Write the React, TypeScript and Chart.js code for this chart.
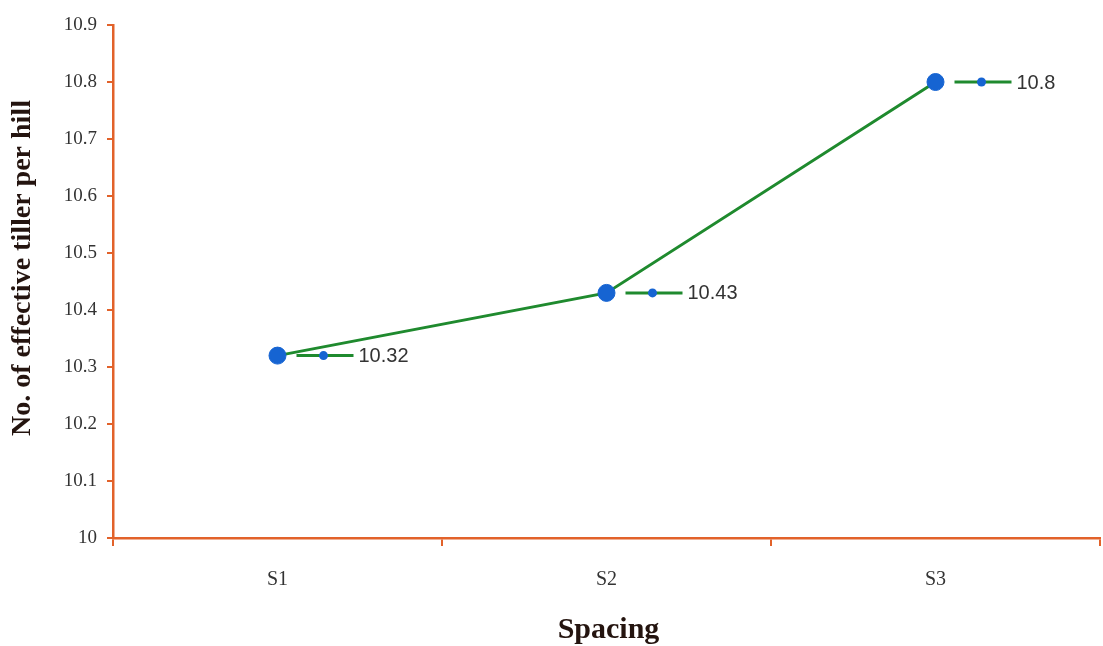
import React, { useEffect, useRef } from "react";
import { Chart, registerables } from "chart.js";

Chart.register(...registerables);

const categories = ["S1", "S2", "S3"];
const tillerValues = [10.32, 10.43, 10.8];
const yMin = 10;
const yMax = 10.9;
const yStep = 0.1;
const xTitle = "Spacing";
const yTitle = "No. of effective tiller per hill";

const axisColor = "#e2622a";
const lineColor = "#1f8a2e";
const pointColor = "#1664d2";
const textColor = "#333333";
const titleColor = "#24140f";
const serif = "'Liberation Serif', 'Times New Roman', serif";

// Draws an Excel-style value label with a legend key next to every point
const valueLabels = {
  id: "valueLabels",
  afterDatasetsDraw(chart: any) {
    const ctx = chart.ctx;
    const meta = chart.getDatasetMeta(0);
    const data = chart.data.datasets[0].data as number[];
    ctx.save();
    meta.data.forEach((pt: any, i: number) => {
      const x = pt.x;
      const y = pt.y;
      ctx.strokeStyle = lineColor;
      ctx.lineWidth = 3;
      ctx.beginPath();
      ctx.moveTo(x + 19, y);
      ctx.lineTo(x + 76, y);
      ctx.stroke();
      ctx.fillStyle = pointColor;
      ctx.beginPath();
      ctx.arc(x + 46, y, 4.5, 0, Math.PI * 2);
      ctx.fill();
      ctx.fillStyle = textColor;
      ctx.font = "20px 'Liberation Sans', Arial, sans-serif";
      ctx.textAlign = "left";
      ctx.textBaseline = "middle";
      ctx.fillText(String(data[i]), x + 81, y + 1);
    });
    ctx.restore();
  },
};

// Bold serif axis titles
const axisTitles = {
  id: "axisTitles",
  afterDraw(chart: any) {
    const ctx = chart.ctx;
    const area = chart.chartArea;
    ctx.save();
    ctx.fillStyle = titleColor;
    ctx.textAlign = "center";
    ctx.textBaseline = "middle";
    ctx.font = `bold 28px ${serif}`;
    ctx.translate(23, 268);
    ctx.rotate(-Math.PI / 2);
    ctx.fillText(yTitle, 0, 0);
    ctx.restore();

    ctx.save();
    ctx.fillStyle = titleColor;
    ctx.textAlign = "center";
    ctx.textBaseline = "middle";
    ctx.font = `bold 30px ${serif}`;
    ctx.fillText(xTitle, (area.left + area.right) / 2 + 2, 630);
    ctx.restore();
  },
};

export default function App() {
  const canvasRef = useRef<HTMLCanvasElement | null>(null);

  useEffect(() => {
    document.body.style.margin = "0";
    const canvas = canvasRef.current;
    if (!canvas) return;
    const chart = new Chart(canvas, {
      type: "line",
      data: {
        labels: categories,
        datasets: [
          {
            data: tillerValues,
            borderColor: lineColor,
            borderWidth: 3,
            tension: 0,
            pointRadius: 8.5,
            pointBackgroundColor: pointColor,
            pointBorderColor: pointColor,
            pointBorderWidth: 1,
            fill: false,
          },
        ],
      },
      options: {
        animation: false,
        responsive: false,
        maintainAspectRatio: false,
        layout: { autoPadding: false, padding: { top: 25, right: 3, left: 0, bottom: 0 } },
        plugins: {
          legend: { display: false },
          tooltip: { enabled: false },
        },
        scales: {
          x: {
            offset: true,
            border: { color: axisColor, width: 2.5 },
            grid: {
              offset: true,
              drawOnChartArea: false,
              drawTicks: true,
              tickLength: 8,
              color: axisColor,
              lineWidth: 2,
            },
            ticks: {
              color: textColor,
              padding: 22,
              font: { family: serif, size: 20 },
            },
            afterFit(scale: any) {
              scale.height = 108;
              scale.paddingLeft = 0;
              scale.paddingRight = 0;
            },
          },
          y: {
            min: yMin,
            max: yMax,
            border: { color: axisColor, width: 2.5 },
            grid: {
              drawOnChartArea: false,
              drawTicks: true,
              tickLength: 6,
              color: axisColor,
              lineWidth: 2,
            },
            ticks: {
              stepSize: yStep,
              color: textColor,
              padding: 10,
              font: { family: serif, size: 19 },
              callback: (v: any) => {
                const n = Math.round(Number(v) * 10) / 10;
                return n === 10 ? "10" : n.toFixed(1);
              },
            },
            afterFit(scale: any) {
              scale.width = 113;
            },
          },
        },
      },
      plugins: [valueLabels, axisTitles],
    });
    return () => chart.destroy();
  }, []);

  return (
    <div style={{ width: 1103, height: 646, background: "#ffffff" }}>
      <canvas ref={canvasRef} width={1103} height={646} />
    </div>
  );
}
